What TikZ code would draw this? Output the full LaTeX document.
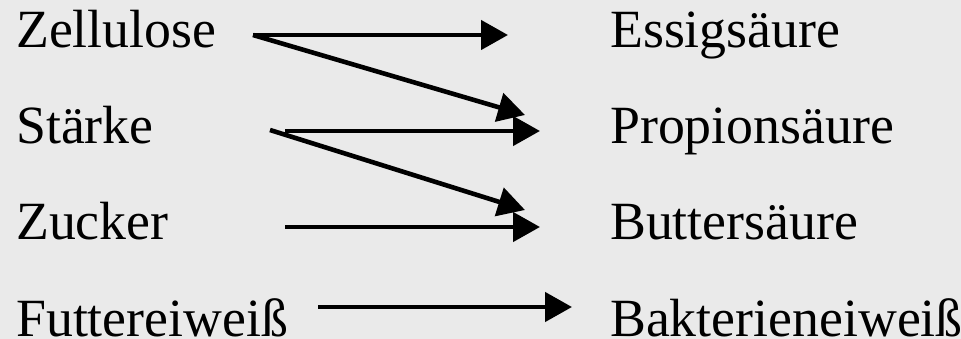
\documentclass[tikz,border=0pt]{standalone}
\usepackage{fontspec}
\setmainfont{Liberation Serif}
\usetikzlibrary{arrows.meta}
\definecolor{bg}{HTML}{EAEAEA}
\begin{document}
\begin{tikzpicture}[x=1pt,y=-1pt,
  term/.style={anchor=base west,inner sep=0pt,font=\fontsize{53.8}{60}\selectfont},
  conv/.style={line width=4.6pt,-{Triangle[length=27pt,width=29pt]}}]
\useasboundingbox[fill=bg] (0,0) rectangle (961,339);
% substrates
\node[term] (zel) at (16,48)  {Zellulose};
\node[term] (sta) at (16,144) {Stärke};
\node[term] (zuc) at (16,240) {Zucker};
\node[term] (fut) at (16,336) {Futtereiweiß};
% products
\node[term] (ess) at (610,48)  {Essigsäure};
\node[term] (pro) at (610,144) {Propionsäure};
\node[term] (but) at (610,240) {Buttersäure};
\node[term] (bak) at (610,336) {Bakterieneiweiß};
% arrow end points
\coordinate (zelout) at (253,35);
\coordinate (staout) at (270,130);
\coordinate (staouth) at (285,131);
\coordinate (zucout) at (285,227);
\coordinate (futout) at (318,307);
\coordinate (essin) at (508,35);
\coordinate (proin) at (540,131);
\coordinate (proinD) at (525,115);
\coordinate (butin) at (540,227);
\coordinate (butinD) at (525,210);
\coordinate (bakin) at (572,307);
% conversions
\draw[conv] (zelout) -- (essin);
\draw[conv] (zelout) -- (proinD);
\draw[conv] (staouth) -- (proin);
\draw[conv] (staout) -- (butinD);
\draw[conv] (zucout) -- (butin);
\draw[conv] (futout) -- (bakin);
\end{tikzpicture}
\end{document}
